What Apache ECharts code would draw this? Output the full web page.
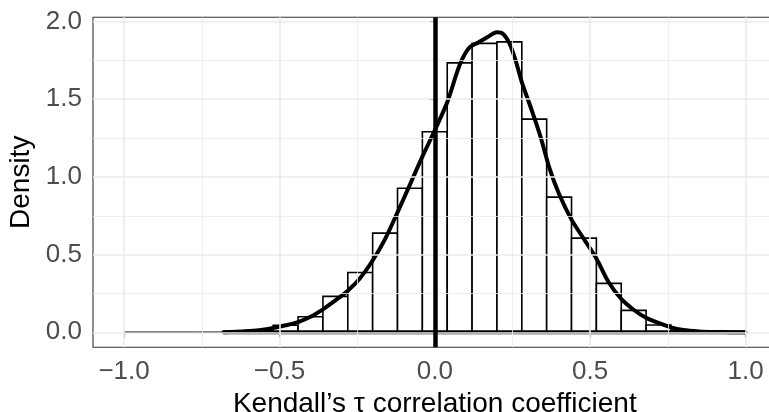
<!DOCTYPE html>
<html>
<head>
<meta charset="utf-8">
<script src="https://cdn.jsdelivr.net/npm/echarts@6/dist/echarts.min.js"></script>
<style>
html,body{margin:0;padding:0;background:#fff;}
#chart{width:769px;height:412px;}
</style>
</head>
<body>
<div id="chart"></div>
<script>
// Histogram bin edges and densities
const binEdges = [-1.00,-0.92,-0.84,-0.76,-0.68,-0.60,-0.52,-0.44,-0.36,-0.28,-0.20,-0.12,-0.04,0.04,0.12,0.20,0.28,0.36,0.44,0.52,0.60,0.68,0.76,0.84,0.92,1.00];
const binDensity = [0,0,0,0,0.004,0.012,0.045,0.100,0.231,0.385,0.638,0.927,1.291,1.734,1.859,1.869,1.372,0.870,0.606,0.315,0.141,0.047,0.012,0.002,0];

// Kernel density curve
const densX = [-0.68,-0.64,-0.60,-0.56,-0.52,-0.48,-0.44,-0.40,-0.36,-0.32,-0.28,-0.24,-0.20,-0.16,-0.12,-0.08,-0.04,0.00,0.04,0.08,0.11,0.14,0.17,0.20,0.22,0.24,0.26,0.28,0.31,0.34,0.37,0.40,0.44,0.48,0.52,0.56,0.60,0.64,0.68,0.72,0.76,0.80,0.85,0.90,0.95,1.00];
const densY = [0.000,0.003,0.008,0.015,0.028,0.045,0.066,0.100,0.148,0.205,0.268,0.350,0.462,0.600,0.772,0.950,1.130,1.300,1.480,1.720,1.830,1.865,1.900,1.930,1.920,1.860,1.750,1.610,1.440,1.260,1.050,0.890,0.725,0.600,0.475,0.320,0.215,0.145,0.093,0.060,0.032,0.015,0.006,0.002,0.001,0.000];

const vlineX = 0;

const xTicks = [-1.0,-0.5,0.0,0.5,1.0];
const xMinor = [-0.75,-0.25,0.25,0.75];
const yTicks = [0.0,0.5,1.0,1.5,2.0];
const yMinor = [0.25,0.75,1.25,1.75];

const xRange = [-1.1, 1.1];
const yRange = [-0.0965, 2.027];

const fmt = v => (v < 0 ? '\u2212' : '') + Math.abs(v).toFixed(1);

const histData = binDensity.map((d,i) => [binEdges[i], binEdges[i+1], d]);
const densData = densX.map((x,i) => [x, densY[i]]);
const baseData = [[densX[0], 0], [densX[densX.length-1], 0]];

const gridLines = [];
xMinor.forEach(v => gridLines.push({xAxis: v, lineStyle:{width:0.8}}));
yMinor.forEach(v => gridLines.push({yAxis: v, lineStyle:{width:0.8}}));
xTicks.forEach(v => gridLines.push({xAxis: v, lineStyle:{width:1.6}}));
yTicks.forEach(v => gridLines.push({yAxis: v, lineStyle:{width:1.6}}));

const chart = echarts.init(document.getElementById('chart'), null, {renderer:'canvas'});
const FONT = '"Liberation Sans", Arial, Helvetica, sans-serif';

chart.setOption({
  animation: false,
  backgroundColor: '#fff',
  grid: {left: 93, top: 17.3, width: 683.6, height: 330, show: true, borderColor: '#333333', borderWidth: 1.1,
    backgroundColor: 'transparent', containLabel: false, outerBoundsMode: 'none'},
  xAxis: {
    type: 'value', min: xRange[0], max: xRange[1],
    name: 'Kendall\u2019s \u03c4 correlation coefficient',
    nameLocation: 'middle', nameGap: 37,
    nameTextStyle: {fontFamily: FONT, fontSize: 28, color: '#000'},
    axisLine: {show: false},
    axisTick: {show: true, length: 5, customValues: xTicks, lineStyle: {color: '#333333', width: 1.1}},
    axisLabel: {customValues: xTicks, formatter: fmt, margin: 12, fontFamily: FONT, fontSize: 26, color: '#4D4D4D'},
    splitLine: {show: false}
  },
  yAxis: {
    type: 'value', min: yRange[0], max: yRange[1],
    name: 'Density', nameLocation: 'middle', nameGap: 54, nameRotate: 90,
    nameTextStyle: {fontFamily: FONT, fontSize: 28, color: '#000'},
    axisLine: {show: false},
    axisTick: {show: true, length: 5, customValues: yTicks, lineStyle: {color: '#333333', width: 1.1}},
    axisLabel: {customValues: yTicks, formatter: fmt, margin: 11, fontFamily: FONT, fontSize: 26, color: '#4D4D4D'},
    splitLine: {show: false}
  },
  series: [
    {
      type: 'line', data: [], z: 0, silent: true,
      markLine: {silent: true, symbol: 'none', label: {show: false},
        lineStyle: {color: '#EBEBEB', type: 'solid'}, data: gridLines, animation: false}
    },
    {
      type: 'custom', z: 2, silent: true, data: histData,
      renderItem: function(params, api) {
        const pTL = api.coord([api.value(0), api.value(2)]);
        const pTR = api.coord([api.value(1), api.value(2)]);
        const pBL = api.coord([api.value(0), 0]);
        const pBR = api.coord([api.value(1), 0]);
        return {type: 'polygon', shape: {points: [pBL, pTL, pTR, pBR]},
          style: {fill: '#ffffff', stroke: '#000000', lineWidth: 1.6}};
      }
    },
    {
      type: 'line', z: 3, data: baseData, symbol: 'none', silent: true,
      lineStyle: {color: '#000', width: 4}
    },
    {
      type: 'line', z: 4, data: densData, symbol: 'none', silent: true, smooth: 0.3,
      lineStyle: {color: '#000', width: 4, cap: 'round', join: 'round'},
      markLine: {silent: true, symbol: 'none', label: {show: false},
        lineStyle: {color: '#000', width: 4.5, type: 'solid'}, data: [{xAxis: vlineX}]}
    }
  ]
});
</script>
</body>
</html>
